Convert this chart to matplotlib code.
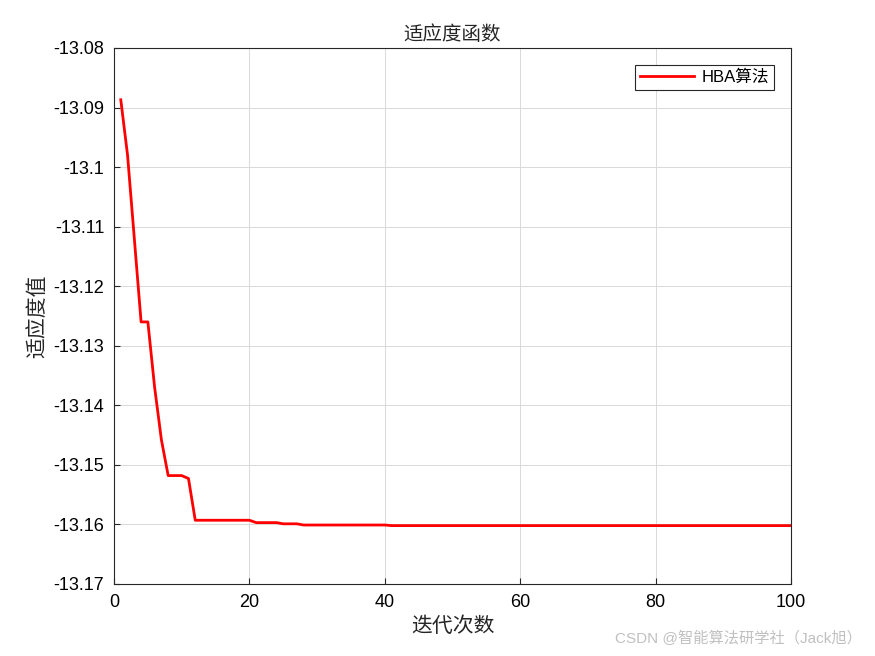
import numpy as np
import matplotlib
matplotlib.use('Agg')
import matplotlib.pyplot as plt

plt.rcParams['font.family'] = ['Liberation Sans', 'Noto Sans CJK SC', 'DejaVu Sans']

# valores
iteraciones = np.arange(1, 101)
primeros = [-13.0887, -13.0980, -13.1120, -13.1260, -13.1260, -13.1370, -13.1458,
            -13.1518, -13.1518, -13.1518, -13.1523]
meseta1 = [-13.1593] * 9      # iter 12-20
meseta2 = [-13.1597] * 4      # iter 21-24
meseta3 = [-13.1599] * 3      # iter 25-27
meseta4 = [-13.1601] * 13     # iter 28-40
meseta5 = [-13.1602] * 60     # iter 41-100
fitness = np.array(primeros + meseta1 + meseta2 + meseta3 + meseta4 + meseta5)

fig = plt.figure(figsize=(8.75, 6.56), dpi=100)
ax = fig.add_axes([0.1303, 0.1098, 0.7737, 0.8171])

ax.plot(iteraciones, fitness, c='red', lw=2, label='HBA算法')
ax.set_xlim(0, 100)
ax.set_ylim(-13.17, -13.08)
ax.set_xticks(np.arange(0, 101, 20))
yt = np.round(np.arange(-13.17, -13.075, 0.01), 2)
ax.set_yticks(yt)
ax.set_yticklabels(['%g' % v for v in yt])
ax.tick_params(labelsize=13, direction='in', length=4, color='#262626', pad=7)
ax.grid(color='#d9d9d9', lw=0.7)
for s in ax.spines.values():
    s.set_color('#262626')
    s.set_linewidth(0.8)

ax.set_title('适应度函数', fontsize=14, color='#262626')
ax.set_xlabel('迭代次数', fontsize=15, color='#262626')
ax.set_ylabel('适应度值', fontsize=15, color='#262626')

leg = ax.legend(loc='upper right', fontsize=12, fancybox=False, framealpha=1,
                edgecolor='#262626', borderaxespad=1.0, handlelength=3.2,
                borderpad=0.3, handletextpad=0.5)
leg.get_frame().set_linewidth(0.8)

fig.text(0.985, 0.015, 'CSDN @智能算法研学社（Jack旭）', ha='right', va='bottom',
         fontsize=11, color='#c0c0c0')

fig.savefig('out.png', dpi=100)
